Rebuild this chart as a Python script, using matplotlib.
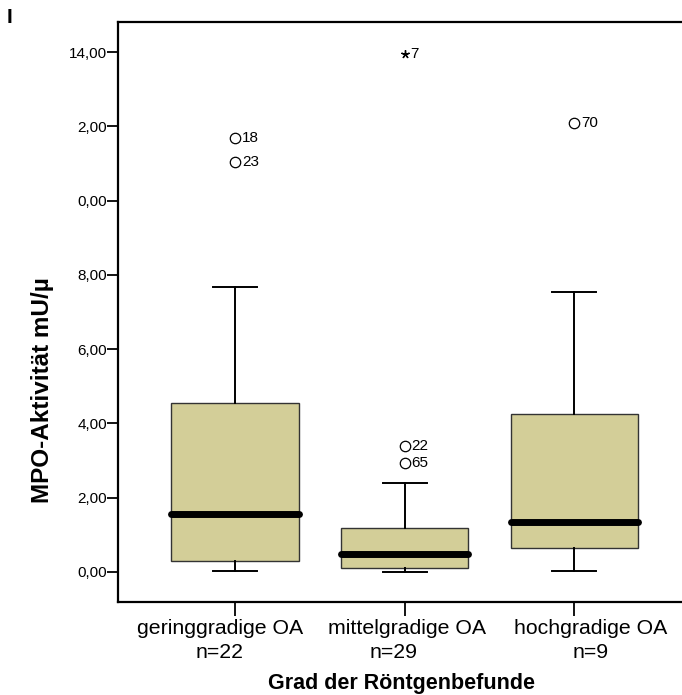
import matplotlib
matplotlib.use("Agg")
import matplotlib.pyplot as plt
from matplotlib.transforms import blended_transform_factory

plt.rcParams["font.family"] = ["Liberation Sans", "DejaVu Sans"]

# Box summary per grade of radiographic finding
groups = ["geringgradige OA", "mittelgradige OA", "hochgradige OA"]
n_counts = [22, 29, 9]
q1 = [0.30, 0.10, 0.65]
median = [1.55, 0.48, 1.34]
q3 = [4.56, 1.19, 4.25]
whisk_lo = [0.035, 0.01, 0.035]
whisk_hi = [7.68, 2.40, 7.54]

# Outliers / extremes (group index, value, case number, kind)
out_group = [0, 0, 1, 1, 1, 2]
out_value = [11.68, 11.03, 3.40, 2.94, 13.94, 12.10]
out_case = ["18", "23", "22", "65", "7", "70"]
out_kind = ["o", "o", "o", "o", "*", "o"]

# Y axis ticks as printed
y_ticks = [0, 2, 4, 6, 8, 10, 12, 14]
y_tick_labels = ["0,00", "2,00", "4,00", "6,00", "8,00", "0,00", "2,00", "14,00"]

W, H = 682, 695
fig = plt.figure(figsize=(W / 100, H / 100), dpi=100)
ax = fig.add_axes([118 / W, (H - 602) / H, (W - 118) / W, (602 - 22) / H])

positions = [1, 2, 3]
stats = []
for i, g in enumerate(groups):
    stats.append(dict(label=g, q1=q1[i], med=median[i], q3=q3[i],
                      whislo=whisk_lo[i], whishi=whisk_hi[i], fliers=[]))

ax.bxp(stats, positions=positions, widths=0.75, showfliers=False,
       patch_artist=True,
       boxprops=dict(facecolor="#d3ce98", edgecolor="#333333", linewidth=1.0),
       whiskerprops=dict(color="black", linewidth=1.4),
       capprops=dict(color="black", linewidth=1.4),
       medianprops=dict(color="black", linewidth=5.0, solid_capstyle="round"),
       capwidths=0.26)

for g, v, c, k in zip(out_group, out_value, out_case, out_kind):
    x = positions[g]
    if k == "o":
        ax.plot(x, v, marker="o", markersize=7.5, markerfacecolor="white",
                markeredgecolor="black", markeredgewidth=0.9, zorder=5)
        dx = 5
    else:
        ax.plot(x, v, marker=(5, 2, 0), markersize=6, color="black",
                markeredgewidth=1.0, zorder=5)
        dx = 4
    ax.annotate(c, (x, v), xytext=(dx, 0), textcoords="offset points",
                va="center", ha="left", fontsize=11)

ax.set_xlim(0.3106, 3.635)
ax.set_ylim(-0.808, 14.81)

ax.set_yticks(y_ticks)
ax.set_yticklabels(y_tick_labels, fontsize=11)
ax.set_xticks(positions)
ax.set_xticklabels([])

ax.tick_params(axis="y", direction="out", length=8, width=1.3, pad=0)
ax.tick_params(axis="x", direction="out", length=10, width=1.3)

# Category captions: name line and sample-size line, nudged outwards
trans = blended_transform_factory(ax.transData, ax.transAxes)
name_shift = [-11, 1.5, 11.5]   # points
n_shift = [-11, -8, 11.5]
for i, (g, n) in enumerate(zip(groups, n_counts)):
    ax.annotate(g, (positions[i], 0), xycoords=trans,
                xytext=(name_shift[i], -19), textcoords="offset points",
                ha="center", va="center", fontsize=15.3)
    ax.annotate(f"n={n}", (positions[i], 0), xycoords=trans,
                xytext=(n_shift[i], -36), textcoords="offset points",
                ha="center", va="center", fontsize=15.3)

for s in ["left", "bottom", "top"]:
    ax.spines[s].set_linewidth(1.6)
ax.spines["right"].set_visible(False)

fig.text(402 / W, 1 - 684 / H, "Grad der Röntgenbefunde", fontsize=15.5,
         fontweight="bold", ha="center", va="center")
fig.text(43 / W, 1 - 390 / H, "MPO-Aktivität mU/µ", rotation=90,
         fontsize=17.5, fontweight="bold", ha="center", va="center")
fig.text(7 / W, 1 - 8 / H, "I", fontsize=15, fontweight="bold",
         ha="left", va="top")

fig.savefig("out.png", dpi=100)
